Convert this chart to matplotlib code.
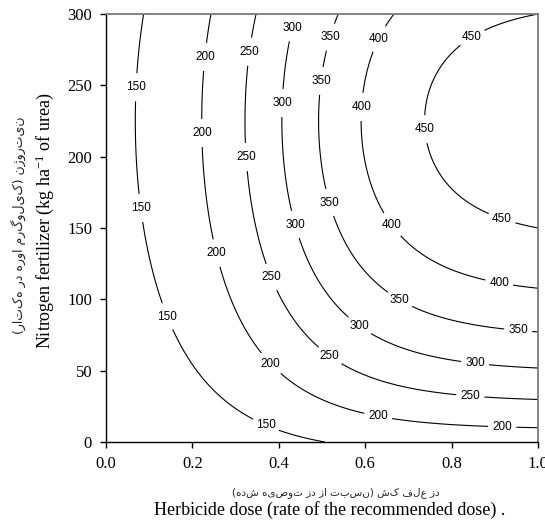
import numpy as np
import matplotlib
matplotlib.use("Agg")
import matplotlib.pyplot as plt

# ---------------- data ----------------
levels = [150, 200, 250, 300, 350, 400, 450]
x_ticks = [0.0, 0.2, 0.4, 0.6, 0.8, 1.0]
x_tick_labels = ["0.0", "0.2", "0.4", "0.6", "0.8", "1.0"]
y_ticks = [0, 50, 100, 150, 200, 250, 300]
y_tick_labels = ["0", "50", "100", "150", "200", "250", "300"]

# response-surface coefficients estimated from the contour positions
n_opt = 225.0                          # nitrogen rate of maximum response
base_peak, base_curv = 137.0, 0.000533  # response without herbicide
full_peak, full_curv = 484.6, 0.006158  # response at the full dose
dose_mid, dose_scale = 0.41, 0.16       # logistic dose-response

x_label_en = "Herbicide dose (rate of the recommended dose) ."
x_label_fa = "دز علف کش (نسبت از دز توصیه شده)"
y_label_en = r"Nitrogen fertilizer (kg ha$^{-1}$ of urea)"
y_label_fa = "نیتروژن (کیلوگرم اوره در هکتار)"

# label positions (layout only)
label_pos = [(0.056, 248.8), (0.0625, 163.3), (0.081, 80.6), (0.377, 16.8),
             (0.231, 269.9), (0.222, 216.6), (0.257, 132.5), (0.380, 54.7),
             (0.630, 18.2), (0.917, 9.8),
             (0.336, 273.4), (0.326, 199.8), (0.384, 115.7), (0.500, 52.6),
             (0.843, 31.5),
             (0.435, 290.2), (0.410, 237.6), (0.442, 152.8), (0.588, 82.0),
             (0.854, 54.7),
             (0.525, 283.2), (0.502, 253.0), (0.521, 168.2), (0.681, 100.2),
             (0.954, 77.8),
             (0.637, 281.8), (0.597, 234.8), (0.664, 152.8), (0.910, 111.4),
             (0.850, 282.5), (0.745, 219.4), (0.917, 157.0)]


def rtl(s):
    """Visual order for a left-to-right renderer."""
    mirror = {"(": ")", ")": "("}
    return "".join(mirror.get(c, c) for c in reversed(s))


plt.rcParams["mathtext.fontset"] = "custom"
plt.rcParams["mathtext.rm"] = "Liberation Serif"
plt.rcParams["mathtext.it"] = "Liberation Serif"
plt.rcParams["mathtext.default"] = "regular"

# ---------------- surface ----------------
xg = np.linspace(0, 1, 501)
yg = np.linspace(0, 300, 501)
X, Y = np.meshgrid(xg, yg)


def logistic(x):
    return 1.0 / (1.0 + np.exp(-(x - dose_mid) / dose_scale))


S = (logistic(X) - logistic(0.0)) / (logistic(1.0) - logistic(0.0))
Z0 = base_peak - base_curv * (Y - n_opt) ** 2
ZQ = full_peak - full_curv * (Y - n_opt) ** 2
Z = Z0 + (ZQ - Z0) * S

# ---------------- figure ----------------
fig = plt.figure(figsize=(5.45, 5.26), dpi=100)
ax = fig.add_axes([106 / 545, 1 - 442 / 526, 432 / 545, 428 / 526])

cs = ax.contour(X, Y, Z, levels=levels, colors="black", linewidths=0.8)
texts = ax.clabel(cs, levels, inline=True, fmt="%d", fontsize=8.5,
                  manual=label_pos, inline_spacing=3)
for t in texts:
    t.set_rotation(0)
    t.set_fontfamily("Liberation Sans")

ax.set_xlim(0, 1)
ax.set_ylim(0, 300)
ax.set_xticks(x_ticks)
ax.set_xticklabels(x_tick_labels)
ax.set_yticks(y_ticks)
ax.set_yticklabels(y_tick_labels)
for lab in ax.get_xticklabels() + ax.get_yticklabels():
    lab.set_fontfamily("Liberation Serif")
    lab.set_fontsize(12)
ax.tick_params(direction="out", length=4, width=1, top=False, right=False,
               pad=6)
for side in ("left", "bottom"):
    ax.spines[side].set_color("black")
    ax.spines[side].set_linewidth(1.0)
for side in ("top", "right"):
    ax.spines[side].set_color("#7a7a7a")
    ax.spines[side].set_linewidth(1.3)

fig.text(330 / 545, 1 - 510 / 526, x_label_en, family="Liberation Serif",
         fontsize=13, ha="center", va="center")
fig.text(336 / 545, 1 - 493 / 526, rtl(x_label_fa), family=["DejaVu Sans"],
         fontsize=7.5, ha="center", va="center", color="#222222")
fig.text(45 / 545, 1 - 221 / 526, y_label_en, family="Liberation Serif",
         fontsize=13, ha="center", va="center", rotation=90)
fig.text(18 / 545, 1 - 225 / 526, rtl(y_label_fa), family=["DejaVu Sans"],
         fontsize=9, ha="center", va="center", rotation=90, color="#222222")

fig.savefig("out.png", dpi=100)
